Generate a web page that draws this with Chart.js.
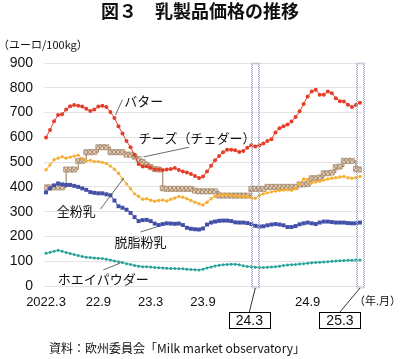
<!DOCTYPE html>
<html>
<head>
<meta charset="utf-8">
<script src="https://cdn.jsdelivr.net/npm/chart.js@4.4.1/dist/chart.umd.min.js"></script>
<style>
  html, body { margin: 0; padding: 0; background: #fff; }
  canvas { display: block; }
</style>
</head>
<body>
<canvas id="priceChart" width="400" height="359"></canvas>
<script>
// biweekly prices, EUR/100kg, 2022.3 - 2025.3
const butter = [599, 630, 665, 690, 693, 712, 725, 730, 727, 724, 715, 706, 712, 724, 727, 722, 702, 678, 645, 615,
  585, 560, 530, 492, 482, 483, 478, 470, 470, 468, 470, 472, 476, 468, 462, 458, 452, 444, 436, 442,
  462, 485, 508, 525, 540, 550, 550, 548, 541, 545, 558, 568, 563, 568, 575, 585, 592, 620, 637, 645,
  652, 664, 682, 705, 735, 765, 785, 792, 772, 772, 785, 778, 758, 746, 745, 732, 722, 730, 740];
const cheese = [398, 398, 398, 398, 398, 470, 470, 470, 505, 505, 540, 540, 540, 560, 560, 560, 540, 540, 540, 540,
  530, 530, 522, 512, 500, 490, 480, 472, 470, 394, 392, 392, 392, 392, 392, 392, 392, 385, 382, 382,
  382, 382, 382, 365, 365, 365, 365, 365, 365, 365, 365, 392, 392, 392, 392, 400, 400, 400, 400, 400,
  400, 400, 400, 410, 410, 412, 435, 435, 438, 455, 455, 458, 480, 482, 505, 505, 505, 472, 470];
const wholeMilk = [469, 489, 510, 516, 522, 516, 520, 524, 528, 514, 504, 508, 502, 502, 499, 494, 484, 471, 455, 432,
  412, 392, 372, 362, 350, 352, 346, 342, 345, 347, 343, 350, 355, 361, 358, 352, 345, 338, 332, 327,
  338, 352, 362, 366, 368, 368, 366, 363, 362, 361, 360, 356, 354, 366, 372, 376, 380, 383, 385, 387,
  388, 386, 392, 412, 432, 430, 416, 420, 423, 428, 432, 435, 437, 440, 442, 437, 435, 437, 442];
const skimMilk = [378, 394, 406, 414, 410, 408, 408, 404, 400, 394, 388, 379, 376, 374, 374, 370, 366, 345, 322, 316,
  308, 295, 278, 262, 266, 267, 262, 252, 246, 250, 253, 252, 251, 252, 246, 235, 231, 229, 228, 232,
  248, 256, 260, 263, 264, 264, 262, 257, 256, 256, 254, 250, 243, 240, 241, 245, 248, 250, 248, 245,
  238, 238, 242, 249, 253, 256, 253, 250, 256, 260, 260, 258, 256, 256, 256, 254, 253, 253, 256];
const whey = [132, 136, 140, 144, 140, 135, 131, 127, 123, 119, 116, 115, 113, 112, 111, 108, 105, 101, 98, 95,
  90, 87, 83, 80, 78, 78, 77, 75, 74, 73, 72, 71, 71, 70, 70, 68, 67, 66, 65, 68,
  73, 77, 81, 84, 86, 87, 88, 88, 86, 82, 79, 78, 76, 75, 75, 76, 77, 78, 80, 83,
  85, 86, 87, 89, 90, 92, 94, 95, 96, 97, 98, 100, 101, 102, 103, 104, 104, 105, 105];

const tickWeeks = [0, 26, 52, 78, 130];
const tickLabels = ["2022.3", "22.9", "23.3", "23.9", "24.9"];
const boxedWeeks = [104, 156];
const boxedLabels = ["24.3", "25.3"];

const weeks = butter.map((v, i) => i * 2);
const toPoints = arr => arr.map((v, i) => ({x: weeks[i], y: v}));

const jp = '"Noto Sans CJK JP", sans-serif';
const latin = '"Liberation Sans", Arial, sans-serif';

// series names with where to put them (week, value) and leader lines
const seriesLabels = [
  {text: "バター", at: [48.5, 747], line: [[34.5, 690], [38, 752]]},
  {text: "チーズ（チェダー）", at: [46, 598], align: "left", line: [[48.5, 521], [71, 560]]},
  {text: "全粉乳", at: [15, 303], line: [[27, 310], [38.5, 434]]},
  {text: "脱脂粉乳", at: [47, 178], line: [[47, 218], [55.5, 240]]},
  {text: "ホエイパウダー", at: [28.5, 28], line: [[28.5, 65], [37, 93]]}
];

// cross-hatched fill for the cheese markers
function hatch() {
  const c = document.createElement('canvas');
  c.width = 4; c.height = 4;
  const g = c.getContext('2d');
  g.fillStyle = '#e2cdb6';
  g.fillRect(0, 0, 4, 4);
  g.strokeStyle = '#a88a6e';
  g.lineWidth = 0.8;
  g.beginPath();
  g.moveTo(0, 4); g.lineTo(4, 0);
  g.moveTo(0, 0); g.lineTo(4, 4);
  g.stroke();
  return g.createPattern(c, 'repeat');
}

const annotations = {
  id: 'annotations',
  afterDatasetsDraw(chart) {
    const {ctx, scales: {x, y}} = chart;
    ctx.save();
    ctx.strokeStyle = '#a3a8c6';
    ctx.lineWidth = 1;
    ctx.setLineDash([1, 1]);
    const top = y.getPixelForValue(900), bottom = y.getPixelForValue(0) + 2;
    boxedWeeks.forEach(w => {
      const l = Math.round(x.getPixelForValue(w - 2)) + 0.5;
      const r = Math.round(x.getPixelForValue(w + 2)) + 0.5;
      ctx.strokeRect(l, top, r - l, bottom - top);
      ctx.strokeRect(l + 1, top + 1, r - l - 2, bottom - top - 2);
    });
    ctx.restore();
  },
  afterDraw(chart) {
    const {ctx, scales: {x, y}} = chart;
    ctx.save();
    ctx.fillStyle = '#111';
    ctx.textBaseline = 'middle';

    // title
    ctx.font = 'bold 18px ' + jp;
    ctx.textAlign = 'center';
    ctx.fillText('図３　乳製品価格の推移', 200, 11);

    // unit
    ctx.font = '11px ' + jp;
    ctx.textAlign = 'left';
    ctx.fillText('（ユーロ/100kg）', -2, 45);

    // series labels
    ctx.strokeStyle = '#444';
    ctx.lineWidth = 0.8;
    seriesLabels.forEach(s => {
      ctx.font = '13px ' + jp;
      ctx.textAlign = s.align || 'center';
      ctx.fillText(s.text, x.getPixelForValue(s.at[0]), y.getPixelForValue(s.at[1]));
      ctx.beginPath();
      ctx.moveTo(x.getPixelForValue(s.line[0][0]), y.getPixelForValue(s.line[0][1]));
      ctx.lineTo(x.getPixelForValue(s.line[1][0]), y.getPixelForValue(s.line[1][1]));
      ctx.stroke();
    });

    // boxed month labels under the highlighted weeks
    const offsets = [-6, -20];
    const bottom = y.getPixelForValue(0) + 2;
    ctx.font = '14px ' + latin;
    ctx.textAlign = 'center';
    boxedWeeks.forEach((w, i) => {
      const cx = x.getPixelForValue(w);
      const bx = cx + offsets[i];
      ctx.strokeStyle = '#333';
      ctx.lineWidth = 1;
      ctx.beginPath();
      ctx.moveTo(cx, bottom);
      ctx.lineTo(bx, 312);
      ctx.stroke();
      ctx.strokeStyle = '#000';
      ctx.strokeRect(Math.round(bx - 20.5) + 0.5, 312.5, 41, 16);
      ctx.fillText(boxedLabels[i], bx, 321);
    });

    ctx.font = '11px ' + jp;
    ctx.textAlign = 'left';
    ctx.fillText('（年.月）', 354, 301);

    ctx.font = '12px ' + jp;
    ctx.textAlign = 'center';
    ctx.fillText('資料：欧州委員会「Milk market observatory」', 177, 348);
    ctx.restore();
  }
};

new Chart(document.getElementById('priceChart'), {
  type: 'line',
  data: {
    datasets: [
      {label: 'バター', data: toPoints(butter), borderColor: '#e63d28', backgroundColor: '#e63d28',
        borderWidth: 1, pointRadius: 2, pointBorderWidth: 0},
      {label: '全粉乳', data: toPoints(wholeMilk), borderColor: '#f3a21b', backgroundColor: '#f5b035',
        borderWidth: 1, pointRadius: 1.7, pointBorderWidth: 0},
      {label: '脱脂粉乳', data: toPoints(skimMilk), borderColor: '#4350a8', backgroundColor: '#4350a8',
        borderWidth: 1, pointStyle: 'rect', pointRadius: 2.8, pointBorderWidth: 0},
      {label: 'ホエイパウダー', data: toPoints(whey), borderColor: '#2aa39a', backgroundColor: '#2aa39a',
        borderWidth: 1, pointRadius: 1.5, pointBorderWidth: 0},
      {label: 'チーズ', data: toPoints(cheese), borderColor: '#8f7055', backgroundColor: hatch(),
        pointBorderColor: '#9c7d62', borderWidth: 1, stepped: true, pointStyle: 'rect',
        pointRadius: 3.6, pointBorderWidth: 0.6}
    ]
  },
  options: {
    responsive: false,
    animation: false,
    devicePixelRatio: 1,
    layout: {padding: {left: 0, right: 38, top: 63, bottom: 0}},
    plugins: {legend: {display: false}, tooltip: {enabled: false}},
    scales: {
      x: {
        type: 'linear', min: -1, max: 157,
        grid: {display: false, drawTicks: false},
        border: {display: false},
        afterFit: s => { s.height = 73; },
        afterBuildTicks: s => { s.ticks = tickWeeks.map(v => ({value: v})); },
        ticks: {
          autoSkip: false, maxRotation: 0, padding: 9, color: '#111',
          font: {family: latin, size: 13},
          callback: v => tickLabels[tickWeeks.indexOf(v)] || ''
        }
      },
      y: {
        min: 0, max: 900,
        grid: {color: '#e3e3e3', drawTicks: false},
        border: {display: false},
        afterFit: s => { s.width = 44; },
        ticks: {stepSize: 100, padding: 11, color: '#111', font: {family: latin, size: 14}}
      }
    }
  },
  plugins: [annotations]
});
</script>
</body>
</html>
